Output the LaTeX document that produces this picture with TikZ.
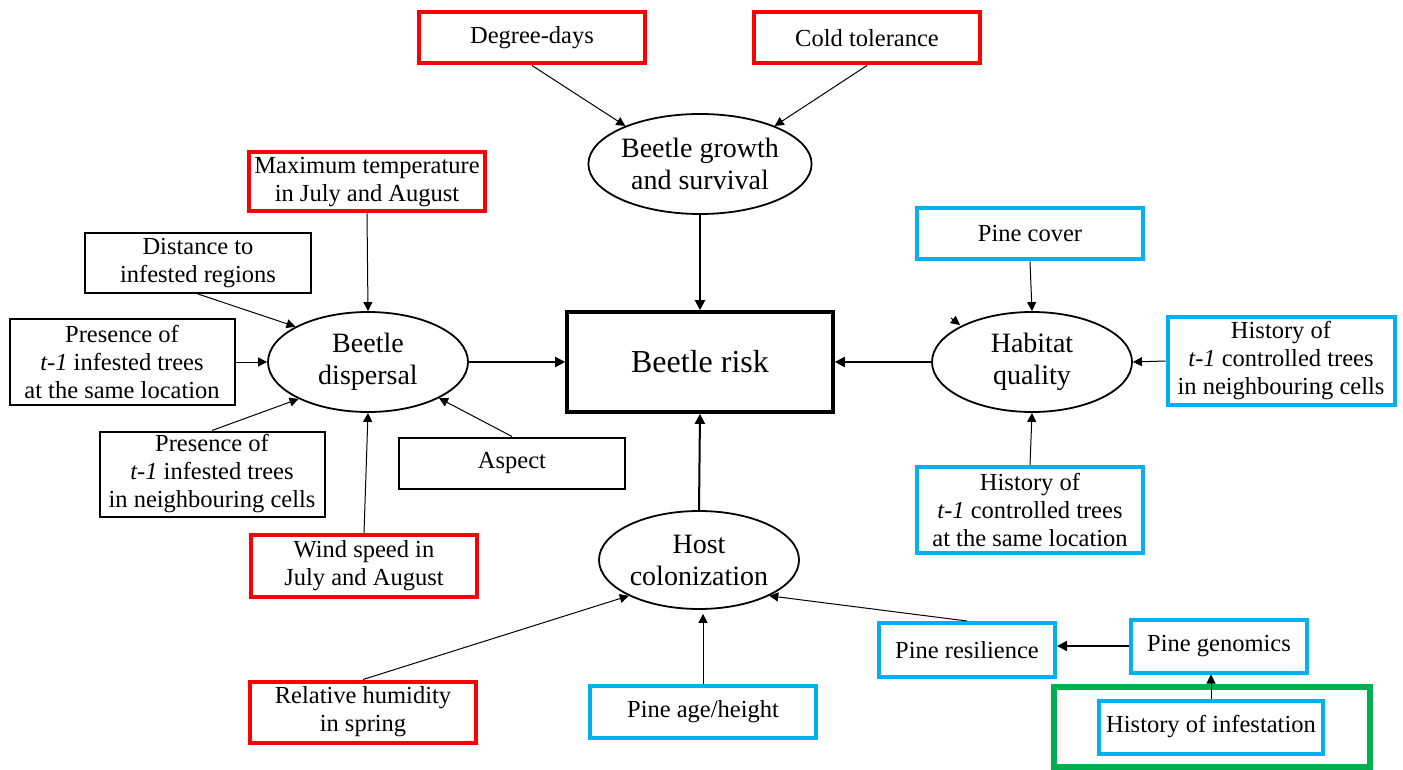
\documentclass[tikz,border=0pt]{standalone}
\usepackage{fontspec}
\setmainfont{LiberationSerif}[Extension=.ttf, UprightFont=*-Regular, ItalicFont=*-Italic, BoldFont=*-Bold, BoldItalicFont=*-BoldItalic]
\usetikzlibrary{shapes.geometric,arrows.meta,calc}
\definecolor{cred}{HTML}{FF0000}
\definecolor{cblue}{HTML}{00B0F0}
\definecolor{cgreen}{HTML}{00B050}
\begin{document}
\begin{tikzpicture}[x=0.5pt,y=-0.5pt,
 box/.style={draw, rectangle, inner sep=0pt, align=center, font=\fontsize{12.25}{14}\selectfont, line width=1pt},
 redbox/.style={box, draw=cred, line width=2pt},
 bluebox/.style={box, draw=cblue, line width=2pt},
 oval/.style={draw, ellipse, inner sep=0pt, minimum width=100pt, minimum height=50pt, align=center, font=\fontsize{14}{16}\selectfont, line width=0.9pt},
 arr/.style={line width=0.5pt, -{Triangle[length=4.5pt,width=4.5pt]}},
 arrb/.style={line width=1pt, -{Triangle[length=5pt,width=5pt]}},
]
\useasboundingbox (0,0) rectangle (1403,770);

% top inputs
\node[redbox, minimum width=113pt, minimum height=25.5pt] (deg) at (532,38) {Degree-days};
\node[redbox, minimum width=113pt, minimum height=25.5pt] (cold) at (867,38) {Cold tolerance};
\node[oval] (growth) at (700,164) {Beetle growth\\and survival};

% centre
\node[draw, rectangle, line width=1.8pt, minimum width=133pt, minimum height=50pt, inner sep=0pt, font=\fontsize{16}{18}\selectfont] (risk) at (700,362) {Beetle risk};

% left
\node[redbox, minimum width=118pt, minimum height=29.5pt] (maxt) at (367,182) {Maximum temperature\\in July and August};
\node[box, minimum width=113pt, minimum height=30pt] (dist) at (198,263) {Distance to\\infested regions};
\node[box, minimum width=112.5pt, minimum height=42.5pt] (pres1) at (122,362) {Presence of\\\textit{t-1} infested trees\\at the same location};
\node[box, minimum width=112.5pt, minimum height=42.5pt] (pres2) at (212,474) {Presence of\\\textit{t-1} infested trees\\in neighbouring cells};
\node[box, minimum width=113pt, minimum height=25.5pt] (aspect) at (512,463) {Aspect};
\node[redbox, minimum width=113pt, minimum height=31pt] (wind) at (364,566) {Wind speed in\\July and August};
\node[oval] (disp) at (368,362) {Beetle\\dispersal};

% bottom
\node[oval, minimum height=49pt] (host) at (699,560) {Host\\colonization};
\node[redbox, minimum width=113pt, minimum height=30.5pt] (hum) at (363,712) {Relative humidity\\in spring};
\node[bluebox, minimum width=113pt, minimum height=26pt] (age) at (703,712) {Pine age/height};
\node[bluebox, minimum width=88pt, minimum height=27pt] (resil) at (967,650) {Pine resilience};
\node[bluebox, minimum width=88pt, minimum height=26.5pt] (genom) at (1219,646) {Pine genomics};
\node[draw=cgreen, line width=3pt, rectangle, inner sep=0pt, minimum width=158pt, minimum height=40pt] (green) at (1212,727) {};
\node[bluebox, minimum width=112pt, minimum height=26.5pt] (infest) at (1211,727) {History of infestation};

% right
\node[oval] (hab) at (1032,362) {Habitat\\quality};
\node[bluebox, minimum width=113pt, minimum height=25.5pt] (cover) at (1030,234) {Pine cover};
\node[bluebox, minimum width=113.5pt, minimum height=43.5pt] (hist1) at (1281,361) {History of\\\textit{t-1} controlled trees\\in neighbouring cells};
\node[bluebox, minimum width=113pt, minimum height=43pt] (hist2) at (1030,510) {History of\\\textit{t-1} controlled trees\\at the same location};

% connectors
\draw[arr] (deg.south) -- (growth.153);
\draw[arr] (cold.south) -- (growth.27);
\draw[arrb] (growth.south) -- (risk.north);

\draw[arr] (maxt.south) -- (disp.north);
\draw[arr] (dist.south) -- (disp.154);
\draw[arr] (pres1.east) -- (disp.west);
\draw[arr] (pres2.north) -- (disp.208);
\draw[arr] (aspect.north) -- (disp.333);
\draw[arr] (wind.north) -- (disp.south);
\draw[arrb] (disp.east) -- (risk.west);

\draw[arrb] (hab.west) -- (risk.east);
\draw[arr] (cover.south) -- (hab.north);
\draw[arr] (hist1.west) -- (hab.east);
\draw[arr] (hist2.north) -- (hab.south);

\draw[arrb] (host.north) -- (risk.south);
\draw[arr] (hum.north) -- (host.207.5);
\draw[arr, shorten >=2pt] (age.north) -- (age.north |- host.south);
\draw[arr] (resil.north) -- (host.333.4);
\draw[arrb] (genom.west) -- (genom.west -| resil.east);
\draw[arr] (infest.north) -- (infest.north |- genom.south);

% stray arrowhead on habitat quality
\coordinate (s1) at (951,318);
\coordinate (s2) at (960,325);
\draw[arr] (s1) -- (s2);
\end{tikzpicture}
\end{document}
